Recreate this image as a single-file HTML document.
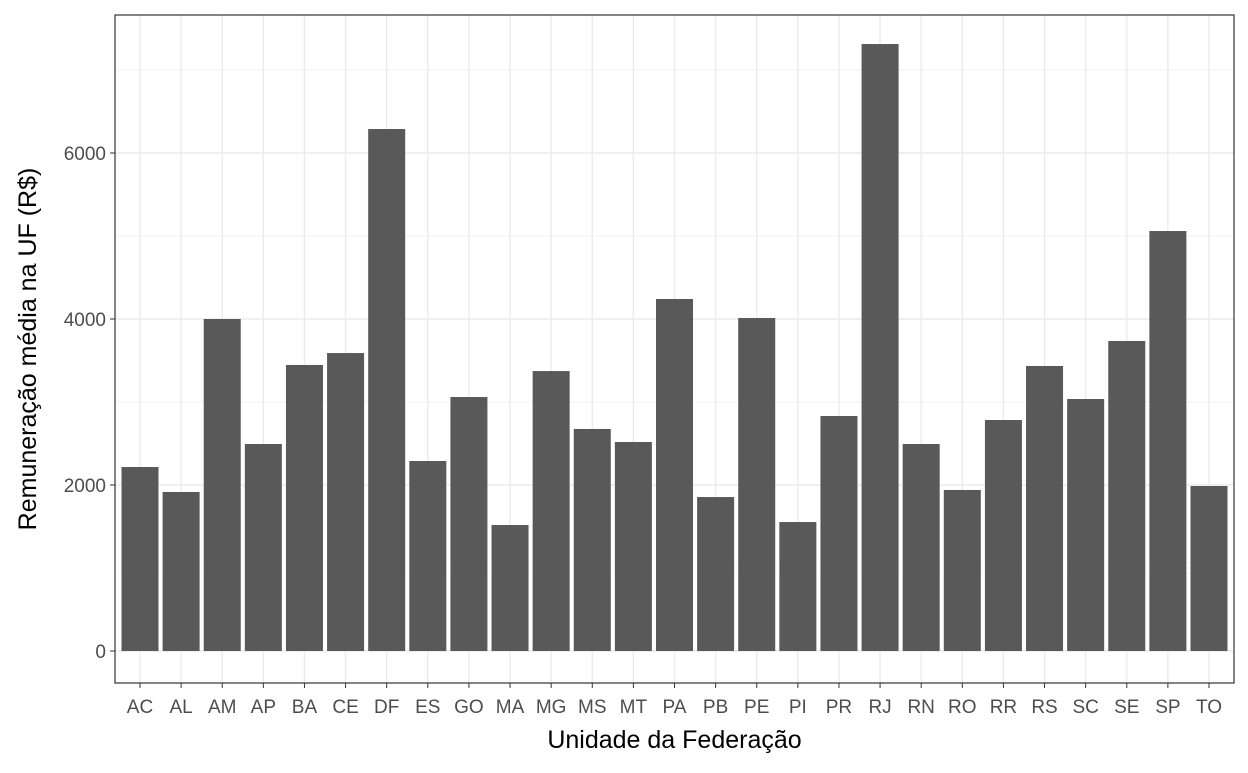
<!DOCTYPE html>
<html><head><meta charset="utf-8"><style>
body{margin:0;background:#fff;}
svg text{font-family:"Liberation Sans",Arial,sans-serif;}
</style></head><body>
<svg id="chart" width="1248" height="768"></svg>
<script>
const categories=["AC","AL","AM","AP","BA","CE","DF","ES","GO","MA","MG","MS","MT","PA","PB","PE","PI","PR","RJ","RN","RO","RR","RS","SC","SE","SP","TO"];
const values=[2217,1916,4000,2494,3446,3590,6289,2289,3060,1518,3373,2675,2518,4241,1855,4012,1554,2831,7313,2494,1940,2783,3434,3036,3735,5060,1988];
const yTicks=[0,2000,4000,6000];
const yMinor=[1000,3000,5000,7000];
const NS="http://www.w3.org/2000/svg";
const svg=document.getElementById("chart");
const L=115,R=1234,T=15,B=683;
const x0=140,step=(1209-140)/26;
function xPos(i){return x0+i*step;}
function yPos(v){return 651-v*(498/6000);}
function el(tag,attrs,parent){const e=document.createElementNS(NS,tag);for(const k in attrs)e.setAttribute(k,attrs[k]);(parent||svg).appendChild(e);return e;}
const bg=el("rect",{x:L,y:T,width:R-L,height:B-T,fill:"#fff"});


yMinor.forEach(v=>{const g=el("line",{x1:L,x2:R,y1:yPos(v),y2:yPos(v),stroke:"#ebebeb","stroke-width":0.7});

});
yTicks.forEach(v=>{const g=el("line",{x1:L,x2:R,y1:yPos(v),y2:yPos(v),stroke:"#ebebeb","stroke-width":1.4});


const t=el("line",{x1:L-5,x2:L,y1:yPos(v),y2:yPos(v),stroke:"#333","stroke-width":1});


const lb=el("text",{x:L-9,y:yPos(v)+7,"text-anchor":"end","font-size":19,fill:"#4d4d4d"});lb.textContent=v;

});
categories.forEach((c,i)=>{const x=xPos(i);
const g=el("line",{x1:x,x2:x,y1:T,y2:B,stroke:"#ebebeb","stroke-width":1.4});

});
categories.forEach((c,i)=>{const x=xPos(i),w=step*0.9;
const b=el("rect",{x:x-w/2,y:yPos(values[i]),width:w,height:yPos(0)-yPos(values[i]),fill:"#595959"});


const t=el("line",{x1:x,x2:x,y1:B,y2:B+5,stroke:"#333","stroke-width":1});


const lb=el("text",{x:x,y:713,"text-anchor":"middle","font-size":19,fill:"#4d4d4d"});lb.textContent=c;

});
const border=el("rect",{x:L,y:T,width:R-L,height:B-T,fill:"none",stroke:"#333","stroke-width":1.2});


const xt=el("text",{x:(L+R)/2,y:748,"text-anchor":"middle","font-size":25,fill:"#000"});xt.textContent="Unidade da Federação";


const yt=el("text",{x:0,y:0,"text-anchor":"middle","font-size":25,fill:"#000",transform:"translate(36,349) rotate(-90)"});yt.textContent="Remuneração média na UF (R$)";


</script>
</body></html>
